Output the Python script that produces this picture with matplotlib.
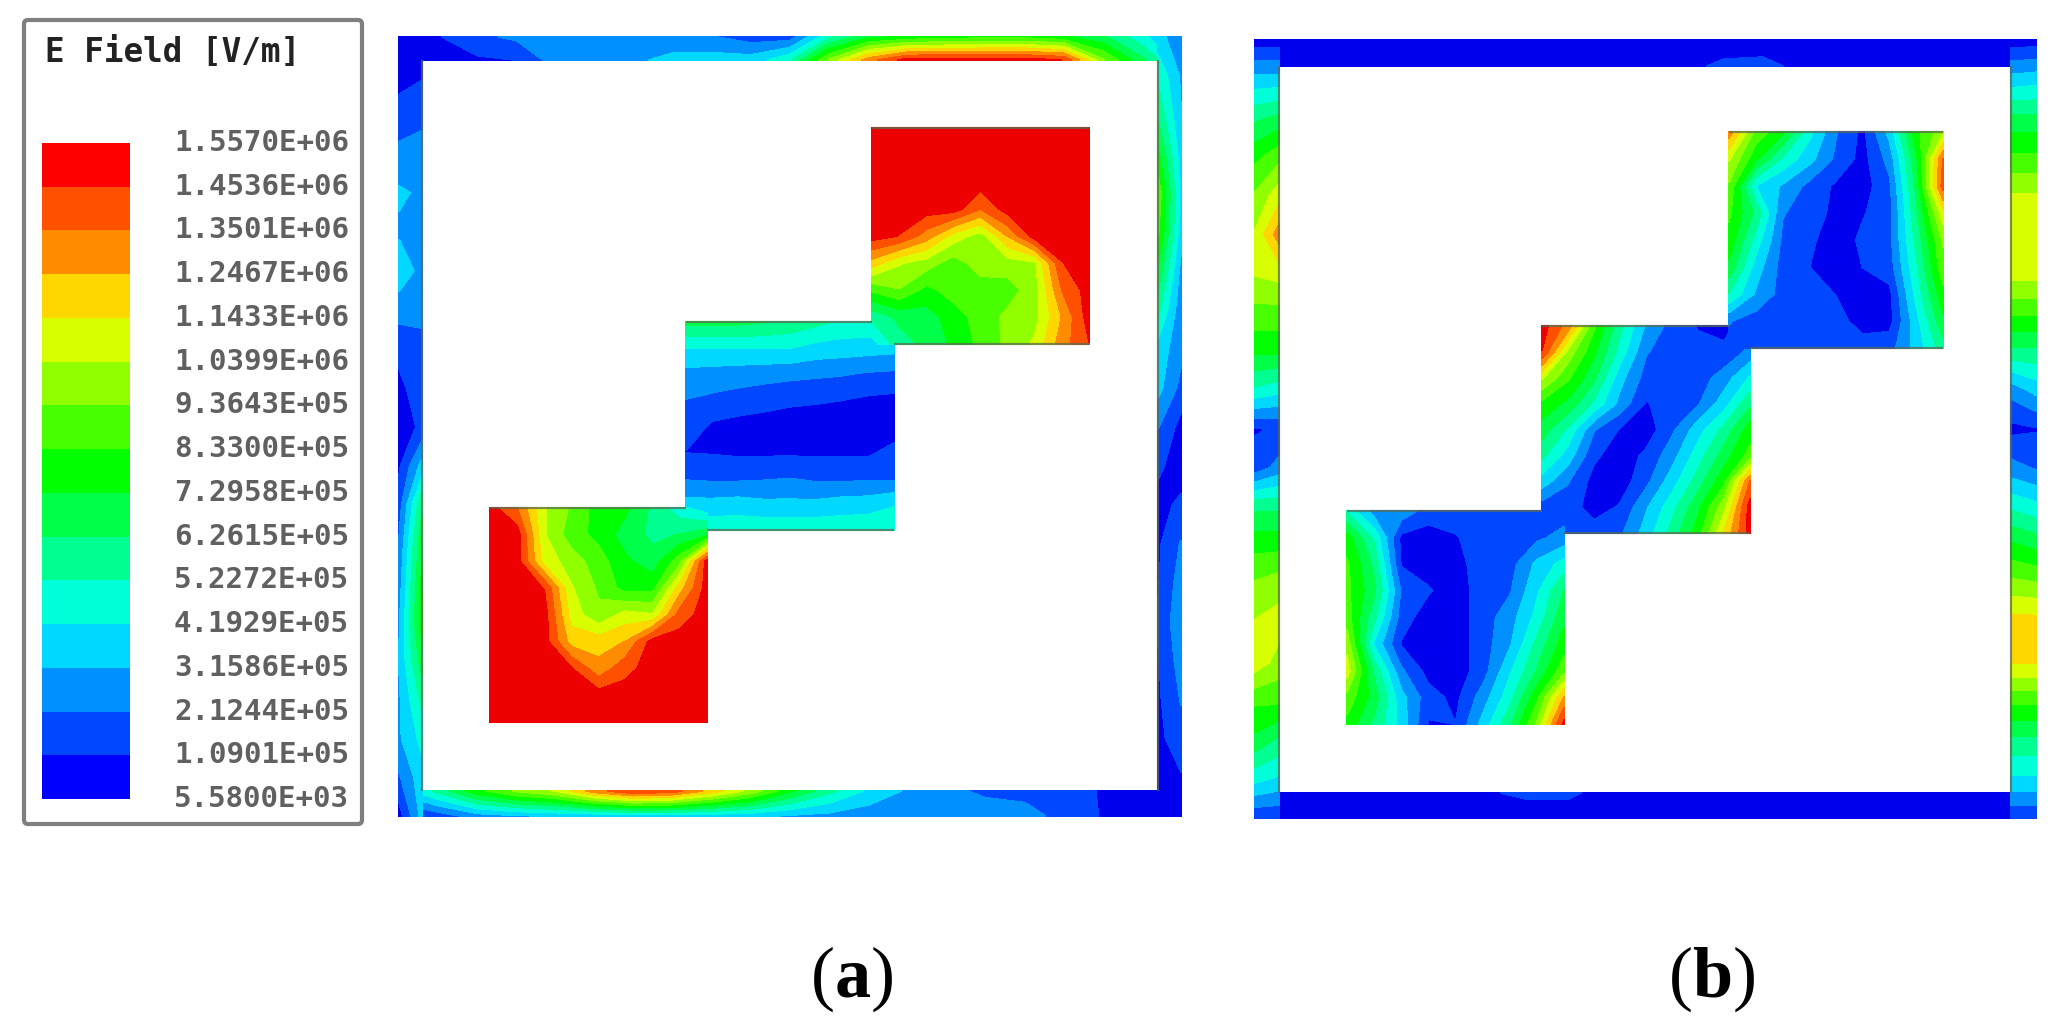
import numpy as np
import matplotlib
matplotlib.use("Agg")
import matplotlib.pyplot as plt
from matplotlib.patches import Rectangle, FancyBboxPatch

plt.rcParams['mathtext.fontset'] = 'custom'
plt.rcParams['mathtext.rm'] = 'Liberation Serif'
plt.rcParams['mathtext.bf'] = 'Liberation Serif:bold'

LEGEND_TITLE = "E Field [V/m]"
LEVEL_LABELS = ["5.5800E+03", "1.0901E+05", "2.1244E+05", "3.1586E+05", "4.1929E+05", "5.2272E+05",
                "6.2615E+05", "7.2958E+05", "8.3300E+05", "9.3643E+05", "1.0399E+06", "1.1433E+06",
                "1.2467E+06", "1.3501E+06", "1.4536E+06", "1.5570E+06"]
LEVELS = [float(s) / 1e5 for s in LEVEL_LABELS]   # field in 1e5 V/m
BAND_COLORS = ["#0000FF", "#0048FF", "#0090FF", "#00D8FF", "#00FFD8", "#00FF90", "#00FF48", "#00FF00",
               "#48FF00", "#90FF00", "#D8FF00", "#FFD700", "#FF8C00", "#FF5000", "#FF0000"]
PLOT_COLORS = ["#0000EE"] + BAND_COLORS[1:-1] + ["#EE0000"]

# ---- panel (a), squares: field in 1e5 V/m, rows top to bottom
A_LOWER = [
 [15, 13.5, 10.5, 9.2, 7.8, 7.5, 6, 4.5, 3.5],
 [15, 15, 10.5, 8.8, 8, 6.8, 6, 6.3, 7],
 [15, 15, 11, 9.9, 8.8, 7.5, 6.7, 9, 15],
 [15, 15, 14.5, 10.5, 9.2, 7.9, 8, 12, 15],
 [15, 15, 15, 11, 9.6, 10.8, 10.5, 14, 15],
 [15, 15, 15, 12, 12, 12.5, 15, 15, 15],
 [15, 15, 15, 14.6, 12.8, 14.2, 15, 15, 15],
 [15, 15, 15, 15, 15, 15, 15, 15, 15],
 [15, 15, 15, 15, 15, 15, 15, 15, 15]]
A_MIDDLE = [
 [6.5, 6.5, 6.5, 6.3, 6, 5.5, 5, 5, 5],
 [4.2, 4.2, 4.2, 4.2, 4.2, 3.8, 3.7, 3.6, 3.5],
 [2.8, 2.7, 2.6, 2.5, 2.4, 2.3, 2.2, 2.0, 1.9],
 [2.1, 1.9, 1.7, 1.5, 1.3, 1.2, 1.1, 0.9, 0.8],
 [1.8, 0.9, 0.7, 0.6, 0.5, 0.5, 0.5, 0.4, 0.5],
 [1.05, 1.0, 0.9, 0.9, 0.9, 0.9, 0.9, 0.9, 1.4],
 [2, 1.9, 1.9, 2, 2.1, 1.9, 1.9, 1.9, 1.9],
 [3.5, 3.5, 3.6, 3.4, 3.4, 3.4, 3.6, 3.7, 4.1],
 [4.9, 4.9, 4.9, 4.9, 4.9, 4.9, 4.9, 4.9, 4.9]]
A_UPPER = [
 [15, 15, 15, 15, 15, 15, 15, 15, 15],
 [15, 15, 15, 15, 15, 15, 15, 15, 15],
 [15, 15, 15, 15, 15, 15, 15, 15, 15],
 [15, 15, 15, 15, 13.5, 15, 15, 15, 15],
 [15, 14.5, 13, 11, 9.9, 12.5, 15, 15, 15],
 [12, 10.5, 9.9, 8.8, 9.9, 9.9, 10.2, 14.5, 15],
 [8.5, 9.3, 8, 8.8, 8.8, 8.9, 9.9, 13.5, 15],
 [5.5, 6.5, 6.8, 7.8, 8.8, 9.6, 10, 12.5, 15],
 [3.7, 5.8, 6.5, 7.5, 8.6, 9.6, 10.6, 13, 14.5]]

# ---- panel (b), squares
B_LOWER = [
 [5, 2.6, 2.8, 1.6, 1.6, 1.6, 1.6, 1.6, 1.6],
 [7.8, 5, 0.8, 0.6, 1.0, 1.6, 1.6, 1.9, 2.5],
 [8.5, 6, 1.0, 0.6, 0.7, 1.6, 1.7, 3.4, 4.6],
 [8.6, 6.5, 2, 1.2, 0.5, 1.6, 2.0, 4, 6.3],
 [8.8, 5.5, 1.6, 0.5, 0.5, 1.6, 2.7, 4.5, 7],
 [10, 4, 1.0, 0.5, 0.5, 1.6, 3, 5.5, 7.8],
 [10.9, 6, 2.3, 0.7, 0.5, 1.6, 4, 6.3, 9],
 [9, 6.8, 3.5, 1.5, 0.8, 2.6, 4.8, 8, 12.5],
 [8, 6, 3.8, 1, 1.1, 3.5, 6, 9.5, 15]]
B_MIDDLE = [
 [15, 13, 8.5, 5.5, 3, 1.7, 1.0, 0.8, 1.6],
 [14.5, 10, 7.5, 4.8, 2.2, 1.6, 1.5, 1.3, 2.4],
 [10.5, 8.5, 6.5, 3.5, 1.7, 1.6, 1.6, 2.6, 4.3],
 [8, 7, 5, 2.8, 1.0, 1.6, 2.0, 3.7, 6],
 [6.8, 5, 2.2, 1.0, 0.5, 1.9, 3.7, 5.5, 7.8],
 [5.5, 3.7, 1.3, 0.5, 1.3, 2.7, 4.7, 6.7, 8.7],
 [3.7, 2.2, 0.7, 0.5, 1.8, 3.7, 5.7, 8, 13.5],
 [1.6, 1.6, 0.6, 1.2, 3, 4.8, 7, 10, 15],
 [1.6, 1.6, 1.6, 1.9, 3.6, 5.6, 7.8, 11.5, 15]]
B_UPPER = [
 [13, 9, 7.5, 4.5, 2.2, 0.8, 3.5, 8, 10],
 [10.5, 7.5, 5, 3.5, 1.9, 0.7, 2.5, 7, 13.5],
 [9.2, 4.2, 3, 1.8, 0.9, 0.6, 1.9, 6.5, 14],
 [8.5, 6, 2.2, 1.6, 0.8, 1.0, 1.7, 6, 11],
 [8, 4.8, 1.9, 1.3, 0.5, 1.3, 1.8, 5.5, 9.5],
 [7, 3.7, 1.7, 1.1, 0.5, 1.1, 1.6, 5, 9],
 [5.2, 3.0, 1.7, 1.6, 1.05, 0.7, 0.8, 4.5, 8],
 [2.2, 1.6, 1.6, 1.6, 1.5, 0.6, 0.7, 3.8, 7],
 [1.7, 1.6, 1.6, 1.6, 1.6, 1.6, 1.7, 3.5, 5.8]]

# ---- frame strips: [outer edge, inner edge], along the side
A_TOP_OUTER = [.5, 1.0, 1.9, 2.3, 2.4, 2.6, 3.0, 2.6, 2.2, 1.6, 1.6, 5, 7, 7.5, 7.8, 8, 8, 7.5, 6.5, 4.5, 2.5]
A_TOP_INNER = [.7, .8, .9, 1.1, 2.6, 2.8, 3, 3.4, 3.6, 3.6, 5, 9.5, 13, 15, 15, 15, 15, 14.5, 9.5, 6.5, 3.5]
A_BOTTOM_OUTER = [.6, 1.5, 2.6, 3, 3.2, 3.3, 3.6, 3.6, 3.5, 3.4, 3, 2.8, 2.5, 2.2, 2.8, 3, 2.5, 1.8, 1, .8, .5]
A_BOTTOM_INNER = [3.5, 5.5, 8, 9.5, 10.5, 13, 14.5, 14, 12, 10, 7.5, 5.5, 4, 3, 2.5, 1.8, 1.8, 1.5, 1, .7, .5]
A_LEFT_OUTER = [.5, .9, 1.3, 2.5, 3.3, 3, 3.8, 2.6, 1.3, .9, .5, .9, 1.6, 2.2, 2.6, 3, 3.2, 3, 3, 2, .6]
A_LEFT_INNER = [.7, 1, 1.8, 2.6, 3.0, 2.6, 2.8, 2.6, 1.6, 1.5, 1.3, 3.5, 6, 7, 7.5, 7.8, 6.8, 5.5, 4.5, 3.8, 3.5]
A_RIGHT_OUTER = [2.5, 3, 3.2, 3.6, 3.8, 3.6, 2.8, 2.4, 2.4, 1.8, .7, .8, 1.2, 2.2, 2.6, 2.9, 2.6, 2.2, 1.7, 1, .5]
A_RIGHT_INNER = [3.5, 5, 6, 7.5, 9, 8.5, 7, 5.5, 3.8, 3.5, 2.2, 1.2, .9, .9, 1, 1.2, 1, .9, .8, .6, .5]

B_TOP_OUTER = [.5, .5, .5, .5, .5, .5, .5, .5, .5, .5, .5, .5, .5, .5, .5, .5, .5, .5, .5, .5, .8]
B_TOP_INNER = [.8, .6, .6, .6, .6, .6, .6, .6, .6, .6, .6, .8, 1.3, 1.4, .8, .6, .6, .6, .6, .6, 1.2]
B_BOTTOM_OUTER = [.9, .6, .5, .5, .5, .5, .5, .5, .5, .5, .5, .5, .5, .5, .5, .5, .5, .5, .5, .5, .8]
B_BOTTOM_INNER = [1.2, .6, .6, .6, .6, .6, 1.0, 1.3, 1.3, .7, .6, .6, .6, .6, .6, .6, .6, .6, .6, .6, 1.2]
B_LEFT_OUTER = [.5, 3.5, 6, 8, 9.5, 10.5, 10.5, 9, 7.5, 5, 1, 1.5, 6, 8, 9.5, 10.5, 11, 8.5, 7, 4.5, 1.2]
B_LEFT_INNER = [.5, 3.5, 6.5, 9, 11, 13, 10.8, 9, 7.5, 4.5, 1.2, 2.5, 6, 8, 10, 10.8, 10, 8.5, 6, 4, 1.2]
B_RIGHT_OUTER = [.5, 3.7, 6.5, 8.5, 10.5, 11, 10.8, 8.5, 6, 3.5, 1, 2, 4.5, 7, 9.5, 12, 11.5, 8.5, 6, 4, 1.2]
B_RIGHT_INNER = [.5, 3.5, 6.5, 8.5, 10.5, 11, 10.8, 8.5, 6, 2.5, .8, 2.5, 5, 7.5, 9.7, 12, 11.5, 8.5, 6, 4, 1.2]

PANEL_A = dict(outer=(399, 1181, 37, 816), inner=(422, 1158, 60, 791),
               squares=[((686, 894, 322, 530), A_MIDDLE), ((490, 707, 508, 722), A_LOWER), ((872, 1089, 128, 344), A_UPPER)],
               strips=(A_TOP_OUTER, A_TOP_INNER, A_BOTTOM_OUTER, A_BOTTOM_INNER,
                       A_LEFT_OUTER, A_LEFT_INNER, A_RIGHT_OUTER, A_RIGHT_INNER))
PANEL_B = dict(outer=(1255, 2036, 40, 818), inner=(1279, 2011, 66, 793),
               squares=[((1542, 1750, 326, 533), B_MIDDLE), ((1347, 1564, 511, 724), B_LOWER), ((1729, 1943, 132, 348), B_UPPER)],
               strips=(B_TOP_OUTER, B_TOP_INNER, B_BOTTOM_OUTER, B_BOTTOM_INNER,
                       B_LEFT_OUTER, B_LEFT_INNER, B_RIGHT_OUTER, B_RIGHT_INNER))

fig = plt.figure(figsize=(20.57, 10.31), dpi=100)
ax = fig.add_axes([0, 0, 1, 1])
ax.set_xlim(0, 2057)
ax.set_ylim(1031, 0)
ax.axis("off")


def field(box, values):
    x0, x1, y0, y1 = box
    z = np.asarray(values, float)
    x = np.linspace(x0, x1, z.shape[1])
    y = np.linspace(y0, y1, z.shape[0])
    cs = ax.contourf(x, y, z, levels=LEVELS, colors=PLOT_COLORS, extend="neither", zorder=2)
    cs.set_edgecolor("face")
    cs.set_linewidth(0.5)


EDGE = dict(color="#5a6a50", lw=1.6, alpha=0.75, zorder=4, solid_capstyle="butt")

for panel in (PANEL_A, PANEL_B):
    ox0, ox1, oy0, oy1 = panel["outer"]
    ix0, ix1, iy0, iy1 = panel["inner"]
    to, ti, bo, bi, lo, li, ro, ri = panel["strips"]
    field((ox0, ox1, oy0, iy0), [to, ti])
    field((ox0, ox1, iy1, oy1), [bi, bo])
    field((ox0, ix0, oy0, oy1), np.column_stack([lo, li]))
    field((ix1, ox1, oy0, oy1), np.column_stack([ri, ro]))
    ax.plot([ix0, ix0], [iy0, iy1], **EDGE)
    ax.plot([ix1, ix1], [iy0, iy1], **EDGE)
    for box, vals in panel["squares"]:
        field(box, vals)
    (mx0, mx1, my0, my1), (lx0, lx1, ly0, ly1), (ux0, ux1, uy0, uy1) = [s[0] for s in panel["squares"]]
    ax.plot([ux0, ux1], [uy0, uy0], **EDGE)
    ax.plot([mx1, ux1], [uy1, uy1], **EDGE)
    ax.plot([mx0, ux0], [my0, my0], **EDGE)
    ax.plot([lx1, mx1], [my1, my1], **EDGE)
    ax.plot([lx0, mx0], [ly0, ly0], **EDGE)

# legend box
ax.add_patch(FancyBboxPatch((24, 20), 338, 804, boxstyle="round,pad=0,rounding_size=4",
                            fc="white", ec="#7f7f7f", lw=3, zorder=1))
edges_y = np.linspace(799, 143, len(LEVEL_LABELS))
for i, c in enumerate(BAND_COLORS):
    ax.add_patch(Rectangle((42, edges_y[i + 1]), 88, edges_y[i] - edges_y[i + 1], fc=c, ec="none", zorder=2))
for y, s in zip(edges_y, LEVEL_LABELS):
    ax.text(349, y, s, family="DejaVu Sans Mono", fontsize=21, fontweight="bold",
            color="#606060", ha="right", va="center", zorder=3)
ax.text(45, 52, LEGEND_TITLE, family="DejaVu Sans Mono", fontsize=23.5, fontweight="bold",
        color="#222222", ha="left", va="center", zorder=3)

for x, s in ((852, r"($\mathbf{a}$)"), (1712, r"($\mathbf{b}$)")):
    ax.text(x, 997, s, family="Liberation Serif", fontsize=52, color="black",
            ha="center", va="baseline")

fig.savefig("out.png", dpi=100, facecolor="white")
